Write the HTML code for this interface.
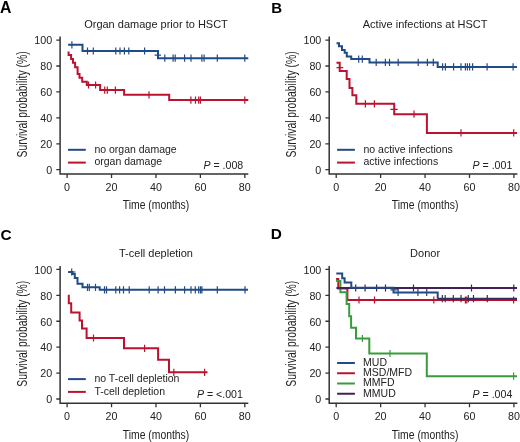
<!DOCTYPE html>
<html><head><meta charset="utf-8"><title>Survival curves</title>
<style>
html,body{margin:0;padding:0;background:#fff;}
body{width:520px;height:442px;overflow:hidden;}
svg{display:block;filter:blur(0.35px);}
text{font-family:"Liberation Sans",sans-serif;fill:#222222;}
.tk{font-size:10.7px;}
.ti{font-size:11px;}
.yl{font-size:14px;}
.xl{font-size:12px;}
.lg{font-size:10.5px;}
.pv{font-size:10.6px;}
.pl{font-weight:bold;fill:#000;}
</style></head>
<body>
<svg width="520" height="442" viewBox="0 0 520 442">
<text x="0" y="13.1" class="pl" font-size="15.8">A</text>
<path d="M60.1,36.6 V173.9 H248.3" fill="none" stroke="#333333" stroke-width="1.5"/>
<path d="M56.3,40.1 H60.1 M56.3,66.02 H60.1 M56.3,91.94 H60.1 M56.3,117.86 H60.1 M56.3,143.78 H60.1 M56.3,169.7 H60.1 M67.1,173.9 V177.9 M111.53,173.9 V177.9 M155.96,173.9 V177.9 M200.39,173.9 V177.9 M244.82,173.9 V177.9 " fill="none" stroke="#333333" stroke-width="1.3"/>
<text x="52.2" y="44.4" text-anchor="end" class="tk">100</text>
<text x="52.2" y="70.32" text-anchor="end" class="tk">80</text>
<text x="52.2" y="96.24" text-anchor="end" class="tk">60</text>
<text x="52.2" y="122.16" text-anchor="end" class="tk">40</text>
<text x="52.2" y="148.08" text-anchor="end" class="tk">20</text>
<text x="52.2" y="174" text-anchor="end" class="tk">0</text>
<text x="67.1" y="191.1" text-anchor="middle" class="tk">0</text>
<text x="111.53" y="191.1" text-anchor="middle" class="tk">20</text>
<text x="155.96" y="191.1" text-anchor="middle" class="tk">40</text>
<text x="200.39" y="191.1" text-anchor="middle" class="tk">60</text>
<text x="244.82" y="191.1" text-anchor="middle" class="tk">80</text>
<text x="156" y="27.7" text-anchor="middle" class="ti">Organ damage prior to HSCT</text>
<text transform="translate(27,104.4) rotate(-90)" x="0" y="0" text-anchor="middle" class="yl" textLength="106" lengthAdjust="spacingAndGlyphs">Survival probability (%)</text>
<text x="156" y="209.2" text-anchor="middle" class="xl" textLength="66.5" lengthAdjust="spacingAndGlyphs">Time (months)</text>
<path d="M68.1,44.8 H82.5 V51 H158 V58.2 H248.3" fill="none" stroke="#214b85" stroke-width="2.0" stroke-linejoin="miter" stroke-linecap="butt"/>
<path d="M71.9,41.2 V48.4 M87.5,47.4 V54.6 M93.3,47.4 V54.6 M115.8,47.4 V54.6 M120,47.4 V54.6 M124.4,47.4 V54.6 M128.8,47.4 V54.6 M144.6,47.4 V54.6 M164.8,54.6 V61.8 M173.1,54.6 V61.8 M175.2,54.6 V61.8 M184.6,54.6 V61.8 M191,54.6 V61.8 M201.9,54.6 V61.8 M204.1,54.6 V61.8 M217.3,54.6 V61.8 M244.8,54.6 V61.8 M154.6,55.2 H161 " fill="none" stroke="#214b85" stroke-width="1.2"/>
<path d="M68.6,51.5 V55.1 H71.1 V59.1 H73 V62.7 H75.1 V67.3 H77.6 V74.1 H79.5 V77.7 H82.2 V81.7 H86.8 V85 H100.1 V90.1 H124.1 V94.85 H169.2 V100.1 H248.3" fill="none" stroke="#bc1230" stroke-width="2.0" stroke-linejoin="miter" stroke-linecap="butt"/>
<path d="M88.5,81.4 V88.6 M95.6,81.4 V88.6 M104.7,86.5 V93.7 M107.3,86.5 V93.7 M115.4,86.5 V93.7 M149,91.25 V98.45 M190.9,96.5 V103.7 M195.5,96.5 V103.7 M198.7,96.5 V103.7 M200.4,96.5 V103.7 M244.8,96.5 V103.7 " fill="none" stroke="#bc1230" stroke-width="1.2"/>
<path d="M68,149.8 H85.8" stroke="#214b85" stroke-width="2"/>
<text x="94.4" y="152.6" class="lg">no organ damage</text>
<path d="M68,162.6 H85.8" stroke="#bc1230" stroke-width="2"/>
<text x="94.4" y="165.4" class="lg">organ damage</text>
<text x="203.4" y="168.9" class="pv"><tspan font-style="italic">P</tspan> = .008</text>
<text x="271.2" y="12.7" class="pl" font-size="15">B</text>
<path d="M329.2,36.6 V173.9 H517.4" fill="none" stroke="#333333" stroke-width="1.5"/>
<path d="M325.4,40.1 H329.2 M325.4,66.02 H329.2 M325.4,91.94 H329.2 M325.4,117.86 H329.2 M325.4,143.78 H329.2 M325.4,169.7 H329.2 M336.2,173.9 V177.9 M380.63,173.9 V177.9 M425.06,173.9 V177.9 M469.49,173.9 V177.9 M513.92,173.9 V177.9 " fill="none" stroke="#333333" stroke-width="1.3"/>
<text x="321.3" y="44.4" text-anchor="end" class="tk">100</text>
<text x="321.3" y="70.32" text-anchor="end" class="tk">80</text>
<text x="321.3" y="96.24" text-anchor="end" class="tk">60</text>
<text x="321.3" y="122.16" text-anchor="end" class="tk">40</text>
<text x="321.3" y="148.08" text-anchor="end" class="tk">20</text>
<text x="321.3" y="174" text-anchor="end" class="tk">0</text>
<text x="336.2" y="191.1" text-anchor="middle" class="tk">0</text>
<text x="380.63" y="191.1" text-anchor="middle" class="tk">20</text>
<text x="425.06" y="191.1" text-anchor="middle" class="tk">40</text>
<text x="469.49" y="191.1" text-anchor="middle" class="tk">60</text>
<text x="513.92" y="191.1" text-anchor="middle" class="tk">80</text>
<text x="425.1" y="27.7" text-anchor="middle" class="ti">Active infections at HSCT</text>
<text transform="translate(296.1,104.4) rotate(-90)" x="0" y="0" text-anchor="middle" class="yl" textLength="106" lengthAdjust="spacingAndGlyphs">Survival probability (%)</text>
<text x="425.1" y="209.2" text-anchor="middle" class="xl" textLength="66.5" lengthAdjust="spacingAndGlyphs">Time (months)</text>
<path d="M336.5,43.3 H339 V46.3 H342 V50 H344.7 V52.8 H346.8 V56.6 H351.2 V59.1 H369.5 V62.4 H437.7 V66.9 H517" fill="none" stroke="#214b85" stroke-width="2.0" stroke-linejoin="miter" stroke-linecap="butt"/>
<path d="M358.7,55.5 V62.7 M362.3,55.5 V62.7 M376.2,58.8 V66 M385.4,58.8 V66 M389.5,58.8 V66 M398.2,58.8 V66 M418.2,58.8 V66 M427.4,58.8 V66 M433.3,58.8 V66 M442.6,63.3 V70.5 M445.4,63.3 V70.5 M453.6,63.3 V70.5 M461,63.3 V70.5 M465.4,63.3 V70.5 M467.4,63.3 V70.5 M469.6,63.3 V70.5 M472.6,63.3 V70.5 M487.1,63.3 V70.5 M513.1,63.3 V70.5 " fill="none" stroke="#214b85" stroke-width="1.2"/>
<path d="M336.5,62.8 H339.7 V71 H346.7 V78.9 H349.5 V88 H352.4 V95.3 H356.3 V103.8 H394.2 V114.2 H426.9 V132.9 H517" fill="none" stroke="#bc1230" stroke-width="2.0" stroke-linejoin="miter" stroke-linecap="butt"/>
<path d="M365.4,100.2 V107.4 M374.4,100.2 V107.4 M414,110.6 V117.8 M461,129.3 V136.5 M513.7,129.3 V136.5 M336.5,67.6 H343.3 M390.4,109.4 H397.7 " fill="none" stroke="#bc1230" stroke-width="1.2"/>
<path d="M337.1,149.8 H354.9" stroke="#214b85" stroke-width="2"/>
<text x="363.5" y="152.6" class="lg">no active infections</text>
<path d="M337.1,162.6 H354.9" stroke="#bc1230" stroke-width="2"/>
<text x="363.5" y="165.4" class="lg">active infections</text>
<text x="472.5" y="168.9" class="pv"><tspan font-style="italic">P</tspan> = .001</text>
<text x="0.6" y="239.7" class="pl" font-size="15.4">C</text>
<path d="M60.1,265.9 V403.2 H248.3" fill="none" stroke="#333333" stroke-width="1.5"/>
<path d="M56.3,269.4 H60.1 M56.3,295.32 H60.1 M56.3,321.24 H60.1 M56.3,347.16 H60.1 M56.3,373.08 H60.1 M56.3,399 H60.1 M67.1,403.2 V407.2 M111.53,403.2 V407.2 M155.96,403.2 V407.2 M200.39,403.2 V407.2 M244.82,403.2 V407.2 " fill="none" stroke="#333333" stroke-width="1.3"/>
<text x="52.2" y="273.7" text-anchor="end" class="tk">100</text>
<text x="52.2" y="299.62" text-anchor="end" class="tk">80</text>
<text x="52.2" y="325.54" text-anchor="end" class="tk">60</text>
<text x="52.2" y="351.46" text-anchor="end" class="tk">40</text>
<text x="52.2" y="377.38" text-anchor="end" class="tk">20</text>
<text x="52.2" y="403.3" text-anchor="end" class="tk">0</text>
<text x="67.1" y="420.4" text-anchor="middle" class="tk">0</text>
<text x="111.53" y="420.4" text-anchor="middle" class="tk">20</text>
<text x="155.96" y="420.4" text-anchor="middle" class="tk">40</text>
<text x="200.39" y="420.4" text-anchor="middle" class="tk">60</text>
<text x="244.82" y="420.4" text-anchor="middle" class="tk">80</text>
<text x="156" y="257" text-anchor="middle" class="ti">T-cell depletion</text>
<text transform="translate(27,333.7) rotate(-90)" x="0" y="0" text-anchor="middle" class="yl" textLength="106" lengthAdjust="spacingAndGlyphs">Survival probability (%)</text>
<text x="156" y="438.5" text-anchor="middle" class="xl" textLength="66.5" lengthAdjust="spacingAndGlyphs">Time (months)</text>
<path d="M68.2,272 H72.5 V274 H74.8 V277.9 H77.5 V283.7 H82.5 V287.3 H99.7 V289.8 H248" fill="none" stroke="#214b85" stroke-width="2.0" stroke-linejoin="miter" stroke-linecap="butt"/>
<path d="M71.7,268.4 V275.6 M87.5,283.7 V290.9 M89.3,283.7 V290.9 M95.5,283.7 V290.9 M104.5,286.2 V293.4 M106.5,286.2 V293.4 M115.8,286.2 V293.4 M119.6,286.2 V293.4 M123.5,286.2 V293.4 M129.2,286.2 V293.4 M149.2,286.2 V293.4 M158.1,286.2 V293.4 M164.5,286.2 V293.4 M175.4,286.2 V293.4 M184.6,286.2 V293.4 M191,286.2 V293.4 M195.3,286.2 V293.4 M198.7,286.2 V293.4 M200.5,286.2 V293.4 M201.9,286.2 V293.4 M217.3,286.2 V293.4 M245,286.2 V293.4 M68.2,272 H75.5 " fill="none" stroke="#214b85" stroke-width="1.2"/>
<path d="M68.8,294.8 V303.2 H71.2 V312.4 H79.6 V320.5 H82 V328.5 H86.6 V338 H124 V348.3 H158.1 V359.8 H169 V372.3 H207.5" fill="none" stroke="#bc1230" stroke-width="2.0" stroke-linejoin="miter" stroke-linecap="butt"/>
<path d="M93.5,334.4 V341.6 M144.6,344.7 V351.9 M173.8,368.7 V375.9 M204.6,368.7 V375.9 " fill="none" stroke="#bc1230" stroke-width="1.2"/>
<path d="M68,379.1 H85.8" stroke="#214b85" stroke-width="2"/>
<text x="94.4" y="381.9" class="lg">no T-cell depletion</text>
<path d="M68,391.9 H85.8" stroke="#bc1230" stroke-width="2"/>
<text x="94.4" y="394.7" class="lg">T-cell depletion</text>
<text x="196.9" y="397.8" class="pv"><tspan font-style="italic">P</tspan> = &lt;.001</text>
<text x="270.7" y="239.4" class="pl" font-size="15.4">D</text>
<path d="M329.2,265.9 V403.2 H517.4" fill="none" stroke="#333333" stroke-width="1.5"/>
<path d="M325.4,269.4 H329.2 M325.4,295.32 H329.2 M325.4,321.24 H329.2 M325.4,347.16 H329.2 M325.4,373.08 H329.2 M325.4,399 H329.2 M336.2,403.2 V407.2 M380.63,403.2 V407.2 M425.06,403.2 V407.2 M469.49,403.2 V407.2 M513.92,403.2 V407.2 " fill="none" stroke="#333333" stroke-width="1.3"/>
<text x="321.3" y="273.7" text-anchor="end" class="tk">100</text>
<text x="321.3" y="299.62" text-anchor="end" class="tk">80</text>
<text x="321.3" y="325.54" text-anchor="end" class="tk">60</text>
<text x="321.3" y="351.46" text-anchor="end" class="tk">40</text>
<text x="321.3" y="377.38" text-anchor="end" class="tk">20</text>
<text x="321.3" y="403.3" text-anchor="end" class="tk">0</text>
<text x="336.2" y="420.4" text-anchor="middle" class="tk">0</text>
<text x="380.63" y="420.4" text-anchor="middle" class="tk">20</text>
<text x="425.06" y="420.4" text-anchor="middle" class="tk">40</text>
<text x="469.49" y="420.4" text-anchor="middle" class="tk">60</text>
<text x="513.92" y="420.4" text-anchor="middle" class="tk">80</text>
<text x="425.1" y="257" text-anchor="middle" class="ti">Donor</text>
<text transform="translate(296.1,333.7) rotate(-90)" x="0" y="0" text-anchor="middle" class="yl" textLength="106" lengthAdjust="spacingAndGlyphs">Survival probability (%)</text>
<text x="425.1" y="438.5" text-anchor="middle" class="xl" textLength="66.5" lengthAdjust="spacingAndGlyphs">Time (months)</text>
<path d="M336.1,279.1 H338.3 V288.4 H347.4 V300 H517" fill="none" stroke="#bc1230" stroke-width="2.0" stroke-linejoin="miter" stroke-linecap="butt"/>
<path d="M359,296.4 V303.6 M374.5,296.4 V303.6 M433.8,296.4 V303.6 M465.4,296.4 V303.6 M466.8,296.4 V303.6 M513.6,296.4 V303.6 " fill="none" stroke="#bc1230" stroke-width="1.2"/>
<path d="M336.1,281 H340.4 V292.2 H346.6 V304 H349.2 V316.2 H351.1 V327.8 H356 V338.5 H369.3 V353.5 H426.8 V376.2 H517" fill="none" stroke="#399c3c" stroke-width="2.0" stroke-linejoin="miter" stroke-linecap="butt"/>
<path d="M362.4,334.9 V342.1 M390,349.9 V357.1 M513.6,372.6 V379.8 " fill="none" stroke="#399c3c" stroke-width="1.2"/>
<path d="M336.4,288 H517" fill="none" stroke="#42205a" stroke-width="2.0" stroke-linejoin="miter" stroke-linecap="butt"/>
<path d="M355.7,284.4 V291.6 M365.1,284.4 V291.6 M376.6,284.4 V291.6 M385.5,284.4 V291.6 M413.5,284.4 V291.6 M471.5,284.4 V291.6 M513.8,284.4 V291.6 " fill="none" stroke="#42205a" stroke-width="1.2"/>
<path d="M336.3,273.6 H342.2 V278.2 H344.6 V282.6 H351.3 V287.7 H393.5 V292.5 H437.7 V298.7" fill="none" stroke="#214b85" stroke-width="2.0" stroke-linejoin="miter" stroke-linecap="butt"/>
<path d="M398.1,288.9 V296.1 M417.9,288.9 V296.1 M426.7,288.9 V296.1 M390.4,289.8 H398.8 " fill="none" stroke="#214b85" stroke-width="1.2"/>
<path d="M437.7,298.7 H517" fill="none" stroke="#33305e" stroke-width="2.0" stroke-linejoin="miter" stroke-linecap="butt"/>
<path d="M442.3,295.1 V302.3 M445.2,295.1 V302.3 M453.3,295.1 V302.3 M461,295.1 V302.3 M468.3,295.1 V302.3 M473.5,295.1 V302.3 M487.3,295.1 V302.3 " fill="none" stroke="#33305e" stroke-width="1.2"/>
<path d="M337.1,363 H354.9" stroke="#214b85" stroke-width="2"/>
<text x="363.1" y="365.8" class="lg">MUD</text>
<path d="M337.1,373.25 H354.9" stroke="#bc1230" stroke-width="2"/>
<text x="363.1" y="376.05" class="lg">MSD/MFD</text>
<path d="M337.1,383.5 H354.9" stroke="#399c3c" stroke-width="2"/>
<text x="363.1" y="386.3" class="lg">MMFD</text>
<path d="M337.1,393.75 H354.9" stroke="#42205a" stroke-width="2"/>
<text x="363.1" y="396.55" class="lg">MMUD</text>
<text x="472.5" y="398.2" class="pv"><tspan font-style="italic">P</tspan> = .004</text>
</svg>
</body></html>
